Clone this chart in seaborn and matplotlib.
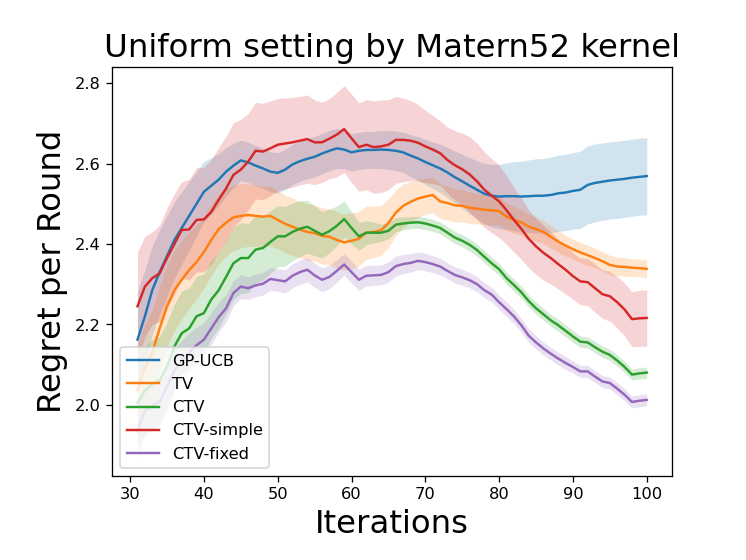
import numpy as np
import pandas as pd
import seaborn as sns
import matplotlib
matplotlib.use("Agg")
import matplotlib.pyplot as plt

iterations = list(range(31, 101))
methods = ["GP-UCB", "TV", "CTV", "CTV-simple", "CTV-fixed"]

gp_ucb = [2.162, 2.22, 2.285, 2.33, 2.37, 2.41, 2.44, 2.47, 2.50, 2.53,
          2.545, 2.56, 2.58, 2.595, 2.608, 2.603, 2.595, 2.588, 2.58, 2.577,
          2.585, 2.598, 2.606, 2.612, 2.617, 2.625, 2.632, 2.638, 2.635, 2.628,
          2.632, 2.634, 2.634, 2.635, 2.634, 2.632, 2.628, 2.62, 2.613, 2.604,
          2.596, 2.588, 2.578, 2.566, 2.556, 2.545, 2.535, 2.525, 2.52, 2.518,
          2.519, 2.519, 2.518, 2.519, 2.52, 2.52, 2.522, 2.526, 2.528, 2.532,
          2.535, 2.547, 2.552, 2.555, 2.558, 2.56, 2.562, 2.565, 2.567, 2.569]
gp_ucb_err = [0.12, 0.115, 0.11, 0.105, 0.10, 0.095, 0.09, 0.085, 0.08, 0.075,
              0.07, 0.065, 0.06, 0.055, 0.05, 0.05, 0.05, 0.05, 0.05, 0.05,
              0.05, 0.05, 0.05, 0.05, 0.05, 0.05, 0.05, 0.05, 0.048, 0.047,
              0.046, 0.046, 0.046, 0.047, 0.048, 0.049, 0.05, 0.052, 0.054, 0.056,
              0.058, 0.06, 0.062, 0.065, 0.067, 0.07, 0.072, 0.075, 0.078, 0.08,
              0.083, 0.086, 0.088, 0.09, 0.092, 0.093, 0.094, 0.095, 0.095, 0.095,
              0.096, 0.097, 0.097, 0.096, 0.096, 0.096, 0.096, 0.096, 0.096, 0.096]

tv = [2.037, 2.09, 2.13, 2.19, 2.245, 2.285, 2.311, 2.335, 2.355, 2.38,
      2.41, 2.437, 2.453, 2.466, 2.47, 2.472, 2.47, 2.468, 2.47, 2.46,
      2.45, 2.443, 2.436, 2.43, 2.427, 2.42, 2.418, 2.41, 2.404, 2.408,
      2.413, 2.428, 2.43, 2.434, 2.452, 2.478, 2.495, 2.505, 2.513, 2.518,
      2.522, 2.506, 2.502, 2.496, 2.495, 2.49, 2.488, 2.485, 2.484, 2.482,
      2.468, 2.46, 2.454, 2.443, 2.437, 2.43, 2.418, 2.406, 2.396, 2.387,
      2.379, 2.372, 2.365, 2.357, 2.348, 2.344, 2.343, 2.341, 2.34, 2.338]
tv_err = [0.11, 0.11, 0.105, 0.105, 0.10, 0.10, 0.098, 0.095, 0.092, 0.09,
          0.088, 0.086, 0.084, 0.082, 0.08, 0.078, 0.076, 0.075, 0.074, 0.072,
          0.072, 0.071, 0.07, 0.07, 0.07, 0.07, 0.07, 0.07, 0.07, 0.07,
          0.068, 0.066, 0.064, 0.062, 0.06, 0.057, 0.054, 0.05, 0.047, 0.045,
          0.044, 0.043, 0.042, 0.041, 0.04, 0.039, 0.038, 0.037, 0.036, 0.035,
          0.034, 0.033, 0.032, 0.031, 0.03, 0.029, 0.028, 0.027, 0.026, 0.025,
          0.025, 0.025, 0.024, 0.024, 0.024, 0.023, 0.023, 0.022, 0.022, 0.022]

ctv = [2.005, 2.035, 2.052, 2.06, 2.095, 2.145, 2.178, 2.19, 2.22, 2.228,
       2.262, 2.285, 2.318, 2.352, 2.365, 2.365, 2.386, 2.39, 2.405, 2.419,
       2.419, 2.43, 2.438, 2.443, 2.433, 2.423, 2.432, 2.445, 2.462, 2.44,
       2.419, 2.428, 2.428, 2.428, 2.433, 2.448, 2.451, 2.453, 2.454, 2.451,
       2.446, 2.44, 2.428, 2.416, 2.408, 2.398, 2.385, 2.368, 2.352, 2.337,
       2.315, 2.298, 2.28, 2.258, 2.24, 2.225, 2.21, 2.198, 2.184, 2.17,
       2.157, 2.155, 2.143, 2.132, 2.124, 2.11, 2.094, 2.075, 2.078, 2.08]
ctv_err = [0.11, 0.11, 0.11, 0.11, 0.11, 0.105, 0.105, 0.10, 0.10, 0.098,
           0.096, 0.094, 0.092, 0.09, 0.088, 0.086, 0.084, 0.08, 0.078, 0.076,
           0.074, 0.072, 0.07, 0.066, 0.062, 0.058, 0.054, 0.05, 0.045, 0.04,
           0.035, 0.03, 0.026, 0.022, 0.02, 0.018, 0.016, 0.015, 0.015, 0.015,
           0.015, 0.015, 0.015, 0.015, 0.015, 0.015, 0.015, 0.015, 0.015, 0.015,
           0.015, 0.015, 0.015, 0.015, 0.015, 0.015, 0.015, 0.015, 0.015, 0.015,
           0.014, 0.014, 0.014, 0.014, 0.014, 0.014, 0.014, 0.014, 0.014, 0.014]

ctv_simple = [2.245, 2.294, 2.315, 2.327, 2.365, 2.40, 2.435, 2.436, 2.46, 2.461,
              2.48, 2.51, 2.538, 2.572, 2.585, 2.605, 2.632, 2.630, 2.638, 2.647,
              2.65, 2.653, 2.657, 2.661, 2.653, 2.653, 2.662, 2.672, 2.686, 2.663,
              2.641, 2.647, 2.641, 2.643, 2.647, 2.659, 2.659, 2.657, 2.652, 2.643,
              2.635, 2.626, 2.609, 2.596, 2.586, 2.573, 2.556, 2.535, 2.52, 2.506,
              2.484, 2.46, 2.438, 2.413, 2.394, 2.378, 2.365, 2.35, 2.336, 2.32,
              2.307, 2.305, 2.29, 2.275, 2.27, 2.255, 2.237, 2.213, 2.215, 2.216]
ctv_simple_err = [0.135, 0.125, 0.115, 0.12, 0.125, 0.125, 0.12, 0.125, 0.13, 0.13,
                  0.13, 0.13, 0.13, 0.13, 0.125, 0.12, 0.12, 0.12, 0.118, 0.115,
                  0.113, 0.112, 0.11, 0.11, 0.105, 0.10, 0.10, 0.105, 0.108, 0.11,
                  0.11, 0.112, 0.115, 0.115, 0.112, 0.108, 0.104, 0.10, 0.095, 0.09,
                  0.085, 0.08, 0.082, 0.086, 0.09, 0.094, 0.095, 0.094, 0.092, 0.09,
                  0.085, 0.08, 0.076, 0.072, 0.07, 0.068, 0.065, 0.062, 0.06, 0.058,
                  0.058, 0.058, 0.06, 0.06, 0.062, 0.064, 0.066, 0.068, 0.07, 0.07]

ctv_fixed = [1.934, 1.985, 1.998, 2.008, 2.045, 2.085, 2.11, 2.13, 2.148, 2.162,
             2.19, 2.218, 2.24, 2.278, 2.294, 2.29, 2.297, 2.301, 2.313, 2.31,
             2.307, 2.321, 2.33, 2.336, 2.322, 2.311, 2.318, 2.333, 2.349, 2.33,
             2.311, 2.321, 2.322, 2.323, 2.33, 2.345, 2.35, 2.353, 2.358, 2.355,
             2.35, 2.344, 2.333, 2.323, 2.317, 2.31, 2.30, 2.285, 2.274, 2.255,
             2.238, 2.22, 2.198, 2.172, 2.155, 2.14, 2.127, 2.115, 2.104, 2.094,
             2.083, 2.083, 2.07, 2.058, 2.054, 2.04, 2.025, 2.007, 2.01, 2.012]
ctv_fixed_err = [0.065, 0.062, 0.06, 0.058, 0.055, 0.053, 0.05, 0.048, 0.045, 0.042,
                 0.04, 0.037, 0.034, 0.031, 0.03, 0.028, 0.028, 0.028, 0.028, 0.028,
                 0.029, 0.03, 0.03, 0.03, 0.03, 0.03, 0.029, 0.028, 0.027, 0.027,
                 0.026, 0.026, 0.025, 0.025, 0.025, 0.025, 0.024, 0.023, 0.022, 0.022,
                 0.021, 0.021, 0.02, 0.02, 0.02, 0.019, 0.019, 0.019, 0.018, 0.018,
                 0.018, 0.018, 0.017, 0.017, 0.017, 0.016, 0.016, 0.016, 0.016, 0.015,
                 0.015, 0.015, 0.015, 0.015, 0.015, 0.015, 0.015, 0.015, 0.015, 0.015]

means = [gp_ucb, tv, ctv, ctv_simple, ctv_fixed]
errs = [gp_ucb_err, tv_err, ctv_err, ctv_simple_err, ctv_fixed_err]

rows = []
for name, m, e in zip(methods, means, errs):
    for it, v, s in zip(iterations, m, e):
        rows.append({"Iterations": it, "regret": v, "err": s, "method": name})
df = pd.DataFrame(rows)

palette = sns.color_palette("tab10", 5)

fig, ax = plt.subplots(figsize=(6.4, 4.8), dpi=116.7)
sns.lineplot(data=df, x="Iterations", y="regret", hue="method",
             hue_order=methods, palette=palette, linewidth=1.5, ax=ax)
for name, c in zip(methods, palette):
    d = df[df["method"] == name]
    ax.fill_between(d["Iterations"], d["regret"] - d["err"], d["regret"] + d["err"],
                    color=c, alpha=0.2, linewidth=0)

ax.set_title("Uniform setting by Matern52 kernel", fontsize=20)
ax.set_xlabel("Iterations", fontsize=20)
ax.set_ylabel("Regret per Round", fontsize=20)
ax.set_xticks([30, 40, 50, 60, 70, 80, 90, 100])
ax.set_yticks([2.0, 2.2, 2.4, 2.6, 2.8])
ax.legend(loc="lower left", fontsize=10)

plt.subplots_adjust(left=0.15, right=0.9, bottom=0.15, top=0.88)
plt.savefig("out.png")
